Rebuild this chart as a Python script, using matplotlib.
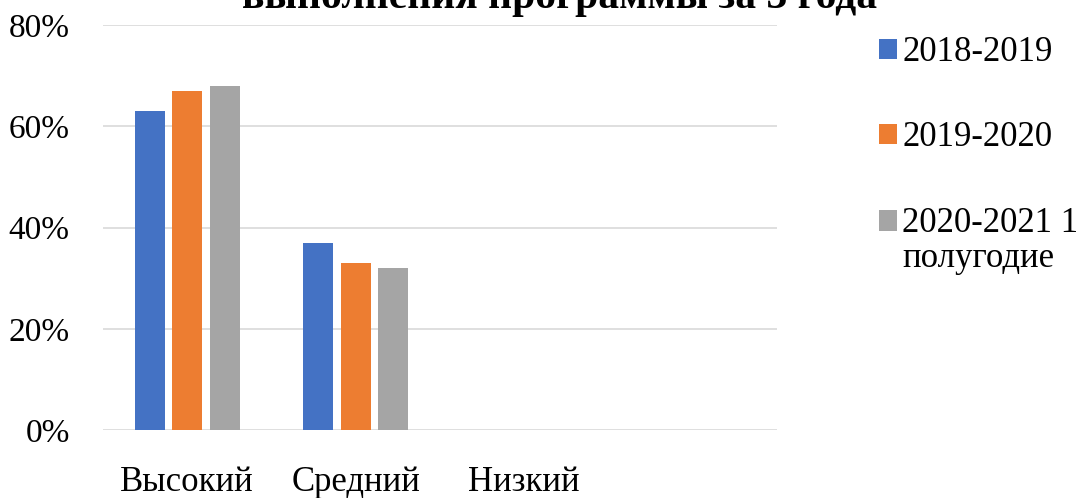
import numpy as np
import matplotlib.pyplot as plt
from matplotlib.ticker import PercentFormatter

plt.rcParams['font.family'] = ['Liberation Serif', 'DejaVu Serif']

# Данные
categories = ['Высокий', 'Средний', 'Низкий', '']
series = ['2018-2019', '2019-2020', '2020-2021 1\nполугодие']
v2018 = [0.63, 0.37, 0.0, 0.0]
v2019 = [0.67, 0.33, 0.0, 0.0]
v2020 = [0.68, 0.32, 0.0, 0.0]
colors = ['#4472C4', '#ED7D31', '#A5A5A5']

fig = plt.figure(figsize=(10.81, 4.98), dpi=100)
ax = fig.add_axes([0.0953, 0.1365, 0.6235, 0.8133])

x = np.arange(len(categories))
w = 0.178
step = 0.2226
for k, vals in enumerate([v2018, v2019, v2020]):
    ax.bar(x + (k - 1) * step, vals, width=w, color=colors[k], label=series[k], zorder=3)

ax.set_xlim(-0.5, len(categories) - 0.5)
ax.set_ylim(0, 0.8)
ax.set_yticks([0, 0.2, 0.4, 0.6, 0.8])
ax.yaxis.set_major_formatter(PercentFormatter(1.0, decimals=0))
ax.set_xticks(x)
ax.set_xticklabels(categories)
ax.grid(axis='y', color='#D9D9D9', linewidth=1.2, zorder=0)
for s in ['top', 'right', 'left', 'bottom']:
    ax.spines[s].set_visible(False)
ax.tick_params(axis='both', length=0)
ax.tick_params(axis='x', pad=26, labelsize=25)
ax.tick_params(axis='y', pad=24, labelsize=24)

# заголовок (верхняя часть обрезана, как в оригинале)
fig.text(0.518, 1 - 8 / 498, 'выполнения программы за 3 года', ha='center', va='baseline',
         fontsize=30, fontweight='bold')

leg = fig.legend(loc='upper left', bbox_to_anchor=(879 / 1081, 1 - 36 / 498), frameon=False,
                 fontsize=25, handlelength=0.52, handleheight=0.52, handletextpad=0.15,
                 labelspacing=1.51, borderpad=0, borderaxespad=0)
for t in leg.get_texts():
    t.set_linespacing(1.1)
# маркер третьей серии — на уровне первой строки подписи
leg.legend_handles[2].set_y(leg.legend_handles[2].get_y() + 15)

fig.savefig('out.png', dpi=100)
